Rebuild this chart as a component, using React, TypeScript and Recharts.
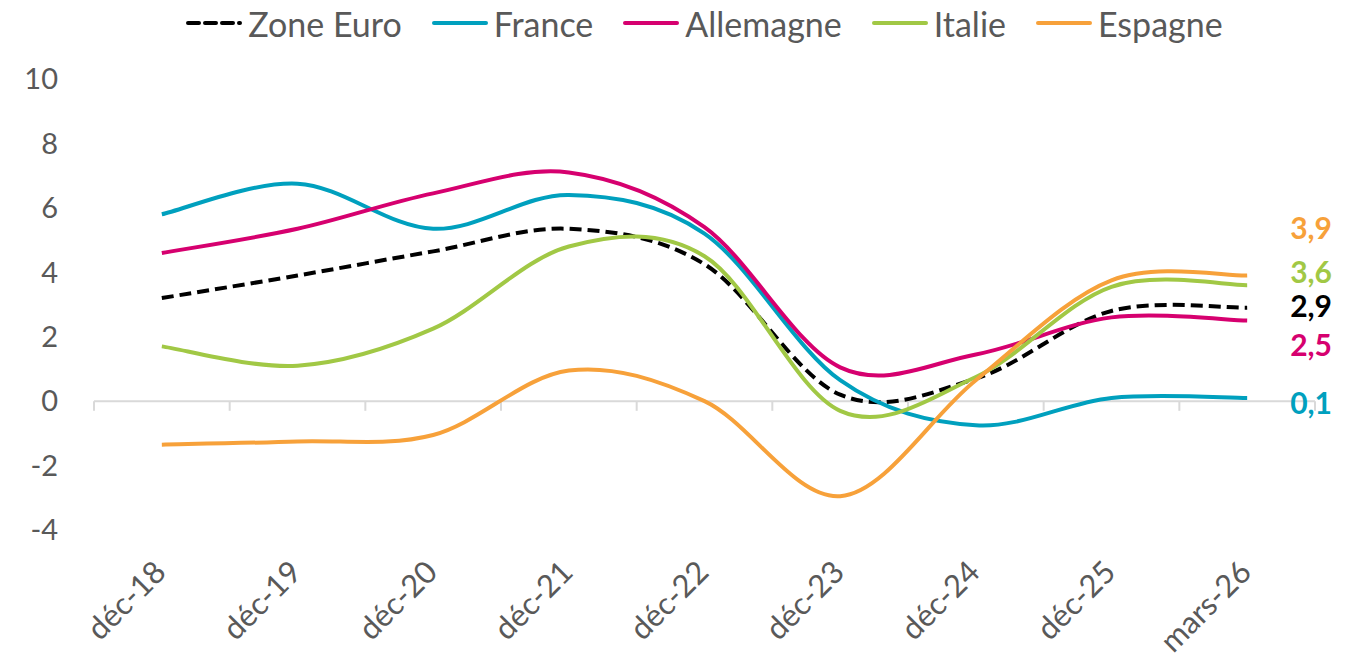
import { LabelList, Line, LineChart, ReferenceLine, XAxis, YAxis } from "recharts";

const months = ["déc-18", "déc-19", "déc-20", "déc-21", "déc-22", "déc-23", "déc-24", "déc-25", "mars-26"];

const zoneEuro = [3.2, 3.9, 4.65, 5.35, 4.25, 0.2, 0.7, 2.8, 2.9];
const france = [5.8, 6.75, 5.35, 6.4, 5.2, 0.65, -0.75, 0.1, 0.1];
const allemagne = [4.6, 5.35, 6.45, 7.1, 5.4, 1.05, 1.45, 2.6, 2.5];
const italie = [1.7, 1.1, 2.25, 4.8, 4.5, -0.3, 0.75, 3.55, 3.6];
const espagne = [-1.35, -1.25, -1.05, 0.95, 0.0, -2.95, 0.65, 3.75, 3.9];

const yTicks = [-4, -2, 0, 2, 4, 6, 8, 10];

const GREY = "#595959";
const FONT = "Lato, 'Open Sans', sans-serif";

const series = [
  { key: "euro", name: "Zone Euro", values: zoneEuro, color: "#000000", dash: "12 6", labelDy: -3 },
  { key: "france", name: "France", values: france, color: "#00A0BE", dash: undefined, labelDy: 4 },
  { key: "allemagne", name: "Allemagne", values: allemagne, color: "#D6006F", dash: undefined, labelDy: 23 },
  { key: "italie", name: "Italie", values: italie, color: "#A1C845", dash: undefined, labelDy: -14 },
  { key: "espagne", name: "Espagne", values: espagne, color: "#F7A13A", dash: undefined, labelDy: -49 },
];

const data = months.map((m, i) => {
  const row: Record<string, number | string> = { i, month: m };
  series.forEach((s) => (row[s.key] = s.values[i]));
  return row;
});

// Excel-style smoothing (Catmull-Rom through every point)
const excelCurve = (context: any) => {
  let xs: number[] = [];
  let ys: number[] = [];
  return {
    areaStart() {},
    areaEnd() {},
    lineStart() {
      xs = [];
      ys = [];
    },
    lineEnd() {
      const n = xs.length;
      if (!n) return;
      context.moveTo(xs[0], ys[0]);
      for (let i = 0; i < n - 1; i++) {
        const p = Math.max(i - 1, 0);
        const q = Math.min(i + 2, n - 1);
        context.bezierCurveTo(
          xs[i] + (xs[i + 1] - xs[p]) / 6,
          ys[i] + (ys[i + 1] - ys[p]) / 6,
          xs[i + 1] - (xs[q] - xs[i]) / 6,
          ys[i + 1] - (ys[q] - ys[i]) / 6,
          xs[i + 1],
          ys[i + 1]
        );
      }
    },
    point(x: number, y: number) {
      xs.push(+x);
      ys.push(+y);
    },
  };
};

const MonthTick = ({ x, y, payload }: any) => (
  <g transform={`translate(${x + 6},${y + 44})`}>
    <text transform="rotate(-45)" textAnchor="end" fill={GREY} fontSize={31} fontFamily={FONT}>
      {months[payload.value]}
    </text>
  </g>
);

const endLabel = (color: string, dy: number) => (props: any) => {
  const { x, y, index, value } = props;
  if (index !== months.length - 1) return null;
  return (
    <text
      x={x + 43}
      y={y + dy}
      dominantBaseline="central"
      fill={color}
      fontSize={30}
      fontWeight={700}
      fontFamily={FONT}
    >
      {String(value).replace(".", ",")}
    </text>
  );
};

const LegendRow = () => (
  <div
    style={{
      position: "absolute",
      left: 86,
      top: -3,
      width: 1221,
      height: 36,
      display: "flex",
      justifyContent: "center",
      alignItems: "center",
      gap: 30,
      fontFamily: FONT,
      fontSize: 34,
      color: GREY,
    }}
  >
    {series.map((s) => (
      <div key={s.key} style={{ display: "flex", alignItems: "center" }}>
        <svg width={56} height={10} style={{ marginRight: 6 }}>
          <line
            x1={2}
            y1={5}
            x2={54}
            y2={5}
            stroke={s.color}
            strokeWidth={4}
            strokeDasharray={s.dash ? "11 6" : undefined}
            strokeLinecap="round"
          />
        </svg>
        <span>{s.name}</span>
      </div>
    ))}
  </div>
);

const App = () => (
  <div style={{ position: "relative", width: 1330, height: 656, background: "#fff" }}>
    <LegendRow />
    <LineChart width={1330} height={656} data={data} margin={{ top: 71, right: 23, bottom: 24, left: 26 }}>
      <XAxis
        dataKey="i"
        type="number"
        domain={[-0.5, 8.5]}
        ticks={months.map((_, i) => i)}
        axisLine={false}
        tickLine={false}
        tickSize={0}
        tickMargin={0}
        height={110}
        interval={0}
        tick={<MonthTick />}
      />
      <YAxis
        type="number"
        domain={[-4, 10]}
        ticks={yTicks}
        axisLine={false}
        tickLine={false}
        tickSize={0}
        tickMargin={36}
        width={60}
        tick={{ fill: GREY, fontSize: 29, fontFamily: FONT }}
      />
      <ReferenceLine y={0} stroke="#D9D9D9" strokeWidth={2} />
      {[-0.5, 0.5, 1.5, 2.5, 3.5, 4.5, 5.5, 6.5, 7.5, 8.5].map((b) => (
        <ReferenceLine
          key={b}
          segment={[
            { x: b, y: 0 },
            { x: b, y: -0.3 },
          ]}
          stroke="#D9D9D9"
          strokeWidth={2}
        />
      ))}
      {series.map((s) => (
        <Line
          key={s.key}
          dataKey={s.key}
          name={s.name}
          type={excelCurve as any}
          stroke={s.color}
          strokeWidth={4}
          strokeDasharray={s.dash}
          dot={false}
          activeDot={false}
          isAnimationActive={false}
        >
          <LabelList dataKey={s.key} content={endLabel(s.color, s.labelDy)} />
        </Line>
      ))}
    </LineChart>
  </div>
);

export default App;
